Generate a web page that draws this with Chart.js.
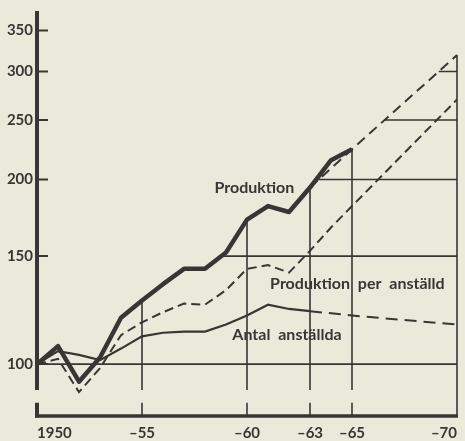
<!DOCTYPE html>
<html>
<head>
<meta charset="utf-8">
<script src="https://cdn.jsdelivr.net/npm/chart.js@4.4.1/dist/chart.umd.min.js"></script>
<style>
  html, body { margin: 0; padding: 0; background: #e9eada; }
  #wrap { width: 465px; height: 441px; }
</style>
</head>
<body>
<div id="wrap"><canvas id="chart"></canvas></div>
<script>
// index, 1950 = 100 (log scale)
var years = [1950, 1951, 1952, 1953, 1954, 1955, 1956, 1957, 1958, 1959, 1960, 1961, 1962, 1963, 1964, 1965];
var produktion = [100, 107, 93.6, 102.5, 119, 127, 135, 143, 143, 152, 172, 181, 177, 194, 215, 224];

var trendYears = [1963, 1965, 1970];
var produktionTrend = [194, 224, 319];

var perYears = [1950, 1951, 1952, 1953, 1954, 1955, 1956, 1957, 1958, 1959, 1960, 1961, 1962, 1963, 1964, 1965, 1970];
var perAnstalld = [100, 102, 90, 98.5, 111.5, 117, 121.5, 125.5, 125, 132, 143, 145, 141, 153, 167, 181, 270];

var antalYears = [1950, 1951, 1952, 1953, 1954, 1955, 1956, 1957, 1958, 1959, 1960, 1961, 1962, 1963];
var antalAnstallda = [100, 105, 103.5, 101.5, 106, 111, 112.5, 113, 113, 116, 120, 125, 123, 122];
var antalTrend = [122, 120, 116];

var xTickYears = [1950, 1955, 1960, 1963, 1965, 1970];
var xTickLabels = ['1950', '–55', '–60', '–63', '–65', '–70'];
var yTickValues = [100, 150, 200, 250, 300, 350];

var dropYears = [1955, 1960, 1963, 1965];
var levelLines = [150, 200, 250, 300];

var INK = '#3b3437';
var PAPER = '#e9eada';
var FONT = 'Lato, "DejaVu Sans", sans-serif';
var Y_MIN = 82.3, Y_MAX = 373.6;
var GAP_HI = 90.7, GAP_LO = 86.5;   // break in axis and drop lines

function xy(xs, ys) {
    return xs.map(function (x, i) { return { x: x, y: ys[i] }; });
}

// produktion incl. trend, for drop lines and level starts
var prodAllYears = years.concat(trendYears.filter(function (y) { return y > 1965; }));
var prodAllVals = produktion.concat(produktionTrend.filter(function (v, i) { return trendYears[i] > 1965; }));

function prodAt(yr) {
    return prodAllVals[prodAllYears.indexOf(yr)];
}

function prodCrossing(level) {
    for (var i = 1; i < prodAllVals.length; i++) {
        var a = prodAllVals[i - 1], b = prodAllVals[i];
        if (a < level && b >= level) {
            var t = (Math.log(level) - Math.log(a)) / (Math.log(b) - Math.log(a));
            return prodAllYears[i - 1] + t * (prodAllYears[i] - prodAllYears[i - 1]);
        }
    }
    return null;
}

var refLines = [];
refLines.push({ x: 1950, y: 100 }, { x: 1970, y: 100 }, { x: 1970, y: null });
levelLines.forEach(function (lv) {
    var x0 = prodCrossing(lv);
    if (x0 !== null) refLines.push({ x: x0, y: lv }, { x: 1970, y: lv }, { x: 1970, y: null });
});
dropYears.forEach(function (yr) {
    refLines.push({ x: yr, y: prodAt(yr) }, { x: yr, y: GAP_HI }, { x: yr, y: null });
    refLines.push({ x: yr, y: GAP_LO }, { x: yr, y: Y_MIN }, { x: yr, y: null });
});
refLines.push({ x: 1970, y: prodAt(1970) }, { x: 1970, y: Y_MIN });

var seriesLabels = [
    { text: 'Produktion', x: 1958.45, y: 194 },
    { text: 'Produktion per anställd', x: 1961.1, y: 135 },
    { text: 'Antal anställda', x: 1959.3, y: 111.5 }
];

var framePlugin = {
    id: 'frame',
    beforeDraw: function (chart) {
        var ctx = chart.ctx;
        ctx.save();
        ctx.fillStyle = PAPER;
        ctx.fillRect(0, 0, chart.width, chart.height);
        ctx.restore();
    },
    afterDatasetsDraw: function (chart) {
        var ctx = chart.ctx, xs = chart.scales.x, ys = chart.scales.y;
        var x0 = xs.getPixelForValue(1950), x1 = xs.getPixelForValue(1970);
        var yb = ys.getPixelForValue(Y_MIN);
        ctx.save();
        ctx.strokeStyle = INK;
        // y axis with break
        ctx.lineWidth = 4;
        ctx.beginPath();
        ctx.moveTo(x0, chart.chartArea.top - 2);
        ctx.lineTo(x0, ys.getPixelForValue(GAP_HI));
        ctx.moveTo(x0, ys.getPixelForValue(GAP_LO));
        ctx.lineTo(x0, yb + 1.5);
        ctx.stroke();
        // x axis
        ctx.lineWidth = 3.5;
        ctx.beginPath();
        ctx.moveTo(x0 - 2, yb);
        ctx.lineTo(x1 + 1, yb);
        ctx.stroke();
        // inner tick marks
        ctx.lineWidth = 2;
        ctx.beginPath();
        yTickValues.forEach(function (v) {
            var py = ys.getPixelForValue(v);
            ctx.moveTo(x0, py);
            ctx.lineTo(x0 + 11, py);
        });
        ctx.stroke();
        // series labels
        ctx.fillStyle = INK;
        ctx.font = 'bold 16px ' + FONT;
        if ('wordSpacing' in ctx) ctx.wordSpacing = '4px';
        ctx.textAlign = 'left';
        ctx.textBaseline = 'middle';
        seriesLabels.forEach(function (l) {
            ctx.fillText(l.text, xs.getPixelForValue(l.x), ys.getPixelForValue(l.y));
        });
        ctx.restore();
    }
};

var config = {
    type: 'line',
    data: {
        datasets: [{
            label: 'Produktion',
            data: xy(years, produktion),
            borderColor: INK,
            borderWidth: 4.5,
            borderJoinStyle: 'round'
        }, {
            label: 'Produktion, trend',
            data: xy(trendYears, produktionTrend),
            borderColor: INK,
            borderWidth: 2,
            borderDash: [10, 6]
        }, {
            label: 'Produktion per anställd',
            data: xy(perYears, perAnstalld),
            borderColor: INK,
            borderWidth: 2,
            borderDash: [9, 5]
        }, {
            label: 'Antal anställda',
            data: xy(antalYears, antalAnstallda),
            borderColor: INK,
            borderWidth: 2.2
        }, {
            label: 'Antal anställda, trend',
            data: xy(trendYears, antalTrend),
            borderColor: INK,
            borderWidth: 2,
            borderDash: [12, 7]
        }, {
            label: 'ref',
            data: refLines,
            borderColor: INK,
            borderWidth: 1.6,
            spanGaps: false,
            clip: false
        }]
    },
    options: {
        responsive: true,
        maintainAspectRatio: false,
        animation: false,
        layout: { padding: { top: 12, right: 3, left: 0, bottom: 0 } },
        elements: { point: { radius: 0 }, line: { tension: 0 } },
        plugins: { legend: { display: false }, tooltip: { enabled: false } },
        scales: {
            x: {
                type: 'linear',
                min: 1950,
                max: 1970,
                grid: { display: false, drawTicks: false },
                border: { display: false },
                afterBuildTicks: function (s) {
                    s.ticks = xTickYears.map(function (v) { return { value: v }; });
                },
                afterFit: function (s) { s.height = 25; },
                ticks: {
                    align: 'inner',
                    maxRotation: 0,
                    autoSkip: false,
                    padding: 8,
                    color: INK,
                    font: { family: FONT, size: 15, weight: 'bold' },
                    callback: function (v) { return xTickLabels[xTickYears.indexOf(v)]; }
                }
            },
            y: {
                type: 'logarithmic',
                min: Y_MIN,
                max: Y_MAX,
                grid: { display: false, drawTicks: false },
                border: { display: false },
                afterBuildTicks: function (s) {
                    s.ticks = yTickValues.map(function (v) { return { value: v }; });
                },
                afterFit: function (s) { s.width = 37; },
                ticks: {
                    padding: 4,
                    color: INK,
                    font: { family: FONT, size: 15, weight: 'bold' },
                    callback: function (v) { return String(v); }
                }
            }
        }
    },
    plugins: [framePlugin]
};

window.onload = function () {
    var ctx = document.getElementById('chart').getContext('2d');
    window.myChart = new Chart(ctx, config);
};
</script>
</body>
</html>
